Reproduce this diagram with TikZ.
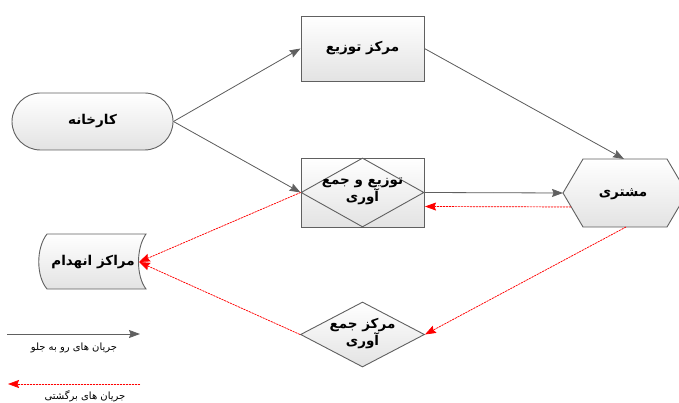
\documentclass[tikz,border=0pt]{standalone}
\usepackage{fontspec}
\usetikzlibrary{shapes.geometric,shapes.misc,arrows.meta}
\newfontfamily\fa[Script=Arabic]{DejaVu Sans}
\TeXXeTstate=1
\newcommand{\rl}[1]{\beginR #1\endR}
\tikzset{
  boxfill/.style={draw=gray!75!black, line width=0.9pt, top color=white, bottom color=gray!22},
  lbl/.style={font=\fa\bfseries\fontsize{13.5}{17}\selectfont, align=center, inner sep=0pt},
  legtxt/.style={font=\fa\fontsize{10}{12}\selectfont, inner sep=0pt},
  fwd/.style={draw=gray!75!black, line width=0.8pt, -{Stealth[length=11pt,width=8pt,inset=1.5pt]}, fill=gray!75!black},
  bwd/.style={draw=red, line width=0.7pt, dash pattern=on 2pt off 1pt, -{Stealth[length=11pt,width=8pt,inset=1.5pt]}, fill=red},
}
\begin{document}
\begin{tikzpicture}[x=1pt,y=-1pt]
\useasboundingbox (0,0) rectangle (679,403);
\clip (0,0) rectangle (679,403);
% factory
\node[boxfill, rounded rectangle, minimum width=161pt, minimum height=57pt, lbl] (factory) at (92.5,121.5) {\rl{کارخانه}};
% distribution center
\node[boxfill, rectangle, minimum width=123pt, minimum height=65pt, lbl] (dc) at (362.5,48.5) {\rl{مرکز توزیع}};
% distribution and collection
\node[boxfill, rectangle, minimum width=123pt, minimum height=69pt] (dcolr) at (362.5,192.5) {};
\node[draw=gray!75!black, line width=0.9pt, diamond, minimum width=123pt, minimum height=69pt, inner sep=0pt] (dcol) at (362.5,192.5) {};
\node[lbl] (dcolt) at (362.5,191) {\rl{توزیع و جمع}\\\rl{آوری}};
% customer hexagon
\path[boxfill] (563,193) coordinate (hexw) -- (583,159) -- (667,159) -- (687,193) -- (667,227) -- (583,227) -- cycle;
\coordinate (hexn) at (624,159);
\coordinate (hexsw) at (571,207);
\coordinate (hexs) at (626,227);
\node[lbl] (hex) at (623,194) {\rl{مشتری}};
% destruction centers
\path[boxfill] (47,234) -- (146,234) .. controls (136,248) and (136,276) .. (146,289) -- (47,289) .. controls (36,276) and (36,248) .. (47,234);
\coordinate (destE) at (139,262);
\node[lbl] (dest) at (93,262) {\rl{مراکز انهدام}};
% collection center
\node[boxfill, diamond, minimum width=124pt, minimum height=65pt, inner sep=0pt] (coll) at (362.5,334.5) {};
\node[lbl] (collt) at (362.5,334) {\rl{مرکز جمع}\\\rl{آوری}};
% forward flows
\draw[fwd] (factory.east) -- (dc.west);
\draw[fwd] (factory.east) -- (dcol.west);
\draw[fwd] (dc.east) -- (hexn);
\draw[fwd] (dcol.east) -- (hexw);
% backward flows
\coordinate (dcolE2) at (425,206.5);
\draw[bwd] (hexsw) -- (dcolE2);
\draw[bwd] (dcol.west) -- (destE);
\draw[bwd] (hexs) -- (coll.east);
\draw[bwd] (coll.west) -- (destE);
% legend
\coordinate (l1a) at (7,334);
\coordinate (l1b) at (140,334);
\draw[fwd] (l1a) -- (l1b);
\node[legtxt] (l1t) at (74,348) {\rl{جریان های رو به جلو}};
\coordinate (l2a) at (140,384);
\coordinate (l2b) at (8,384);
\draw[bwd] (l2a) -- (l2b);
\node[legtxt] (l2t) at (85,396.5) {\rl{جریان های برگشتی}};
\end{tikzpicture}
\end{document}
